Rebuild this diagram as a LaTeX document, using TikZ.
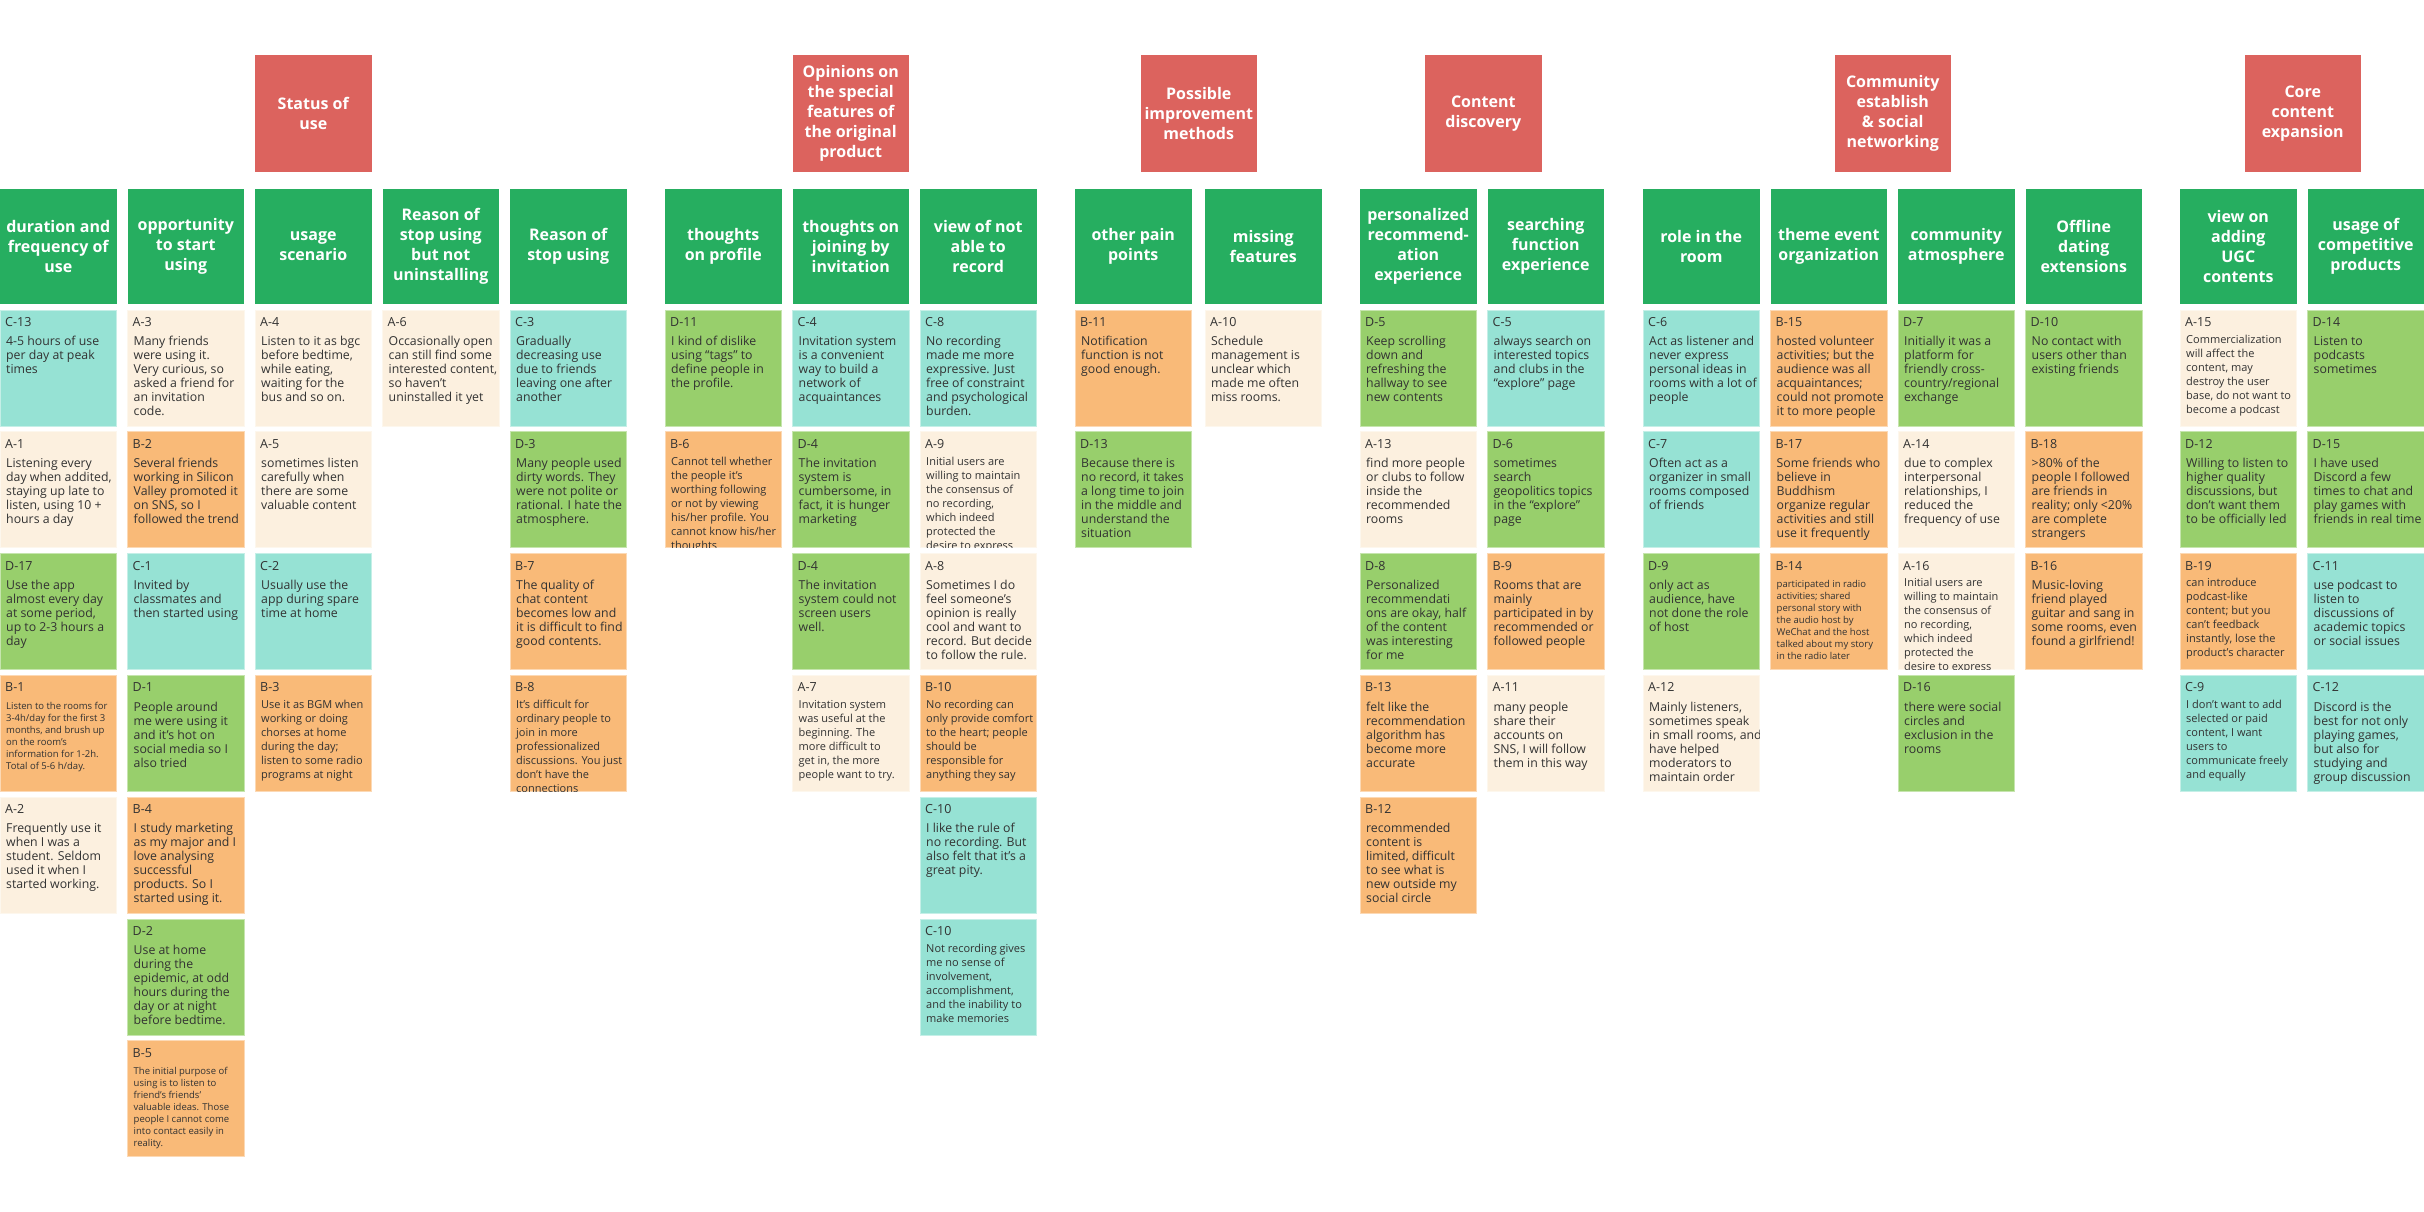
\documentclass[tikz,border=0pt]{standalone}
\usepackage{fontspec}
\setmainfont{Open Sans}
\definecolor{hdrgreen}{RGB}{38,174,96}
\definecolor{catred}{RGB}{220,99,94}
\definecolor{sTeal}{RGB}{150,226,212}
\definecolor{sCream}{RGB}{252,240,223}
\definecolor{sOrange}{RGB}{249,186,120}
\definecolor{sGreen}{RGB}{152,207,108}
\definecolor{txt}{RGB}{50,50,50}
\tikzset{
 stickbox/.style={rectangle, anchor=north west, minimum width=116.5pt, minimum height=116pt, inner sep=0pt, outer sep=0pt, line width=1pt},
 stklabel/.style={anchor=base west, inner sep=0pt, text=txt, font=\fontsize{12.5}{14}\selectfont},
 stkbody/.style={anchor=north west, align=left, inner sep=0pt, text=txt, font=\fontsize{12.3}{14}\selectfont},
 fnorm/.style={},
 fsm/.style={font=\fontsize{11}{14}\selectfont, yshift=2.5pt},
 ftiny/.style={font=\fontsize{9.5}{12}\selectfont, yshift=2pt},
 hdrbox/.style={rectangle, anchor=north west, minimum width=116.5pt, minimum height=115pt, inner sep=0pt, outer sep=0pt, fill=hdrgreen, text=white, align=center, font=\bfseries\fontsize{16}{20}\selectfont},
 catbox/.style={rectangle, anchor=north west, minimum width=116.5pt, minimum height=117pt, inner sep=0pt, outer sep=0pt, fill=catred, text=white, align=center, font=\bfseries\fontsize{16}{20}\selectfont}
}
% sticky: name, x, row, colour, label, size style, text
\newcommand\stk[7]{%
  \node[stickbox, fill=#4, draw=#4!55!white] (#1) at (#2,{310+121.8*(#3-1)}) {};
  \node[stklabel] (#1-l) at ([xshift=5pt,yshift=-16.5pt]#1.north west) {#5};
  \begin{scope}
    \clip (#1.south west) rectangle (#1.north east);
    \node[stkbody, #6] (#1-t) at ([xshift=6pt,yshift=-26pt]#1.north west) {\rule{0pt}{9.5pt}#7};
  \end{scope}}
\newcommand\hdr[3]{\node[hdrbox] (#1) at (#2,189) {#3};}
\newcommand\catg[3]{\node[catbox] (#1) at (#2,55) {#3};}
\begin{document}
\begin{tikzpicture}[x=1pt,y=-1pt]
\fill[white] (0,0) rectangle (2424,1211);
\useasboundingbox (0,0) rectangle (2424,1211);

% category boxes
\catg{k1}{255}{Status of\\use}
\catg{k2}{792.5}{Opinions on\\the special\\features of\\the original\\product}
\catg{k3}{1140.5}{Possible\\improvement\\methods}
\catg{k4}{1425}{Content\\discovery}
\catg{k5}{1834.5}{Community\\establish\\\& social\\networking}
\catg{k6}{2244.5}{Core\\content\\expansion}

% headers
\hdr{h1}{0}{duration and\\frequency of\\use}
\hdr{h2}{127.5}{opportunity\\to start\\using}
\hdr{h3}{255}{usage\\scenario}
\hdr{h4}{382.5}{Reason of\\stop using\\but not\\uninstalling}
\hdr{h5}{510}{Reason of\\stop using}
\hdr{h6}{665}{thoughts\\on profile}
\hdr{h7}{792.5}{thoughts on\\joining by\\invitation}
\hdr{h8}{920}{view of not\\able to\\record}
\hdr{h9}{1075}{other pain\\points}
\hdr{h10}{1205}{missing\\features}
\hdr{h11}{1360}{personalized\\recommend-\\ation\\experience}
\hdr{h12}{1487.5}{searching\\function\\experience}
\hdr{h13}{1643}{role in the\\room}
\hdr{h14}{1770.5}{theme event\\organization}
\hdr{h15}{1898}{community\\atmosphere}
\hdr{h16}{2025.5}{Offline\\dating\\extensions}
\hdr{h17}{2180}{view on\\adding\\UGC\\contents}
\hdr{h18}{2307.5}{usage of\\competitive\\products}

% column 1
\stk{a1}{0}{1}{sTeal}{C-13}{fnorm}{4-5 hours of use\\per day at peak\\times}
\stk{a2}{0}{2}{sCream}{A-1}{fnorm}{Listening every\\day when addited,\\staying up late to\\listen, using 10 +\\hours a day}
\stk{a3}{0}{3}{sGreen}{D-17}{fnorm}{Use the app\\almost every day\\at some period,\\up to 2-3 hours a\\day}
\stk{a4}{0}{4}{sOrange}{B-1}{ftiny}{Listen to the rooms for\\3-4h/day for the first 3\\months, and brush up\\on the room's\\information for 1-2h.\\Total of 5-6 h/day.}
\stk{a5}{0}{5}{sCream}{A-2}{fnorm}{Frequently use it\\when I was a\\student. Seldom\\used it when I\\started working.}

% column 2
\stk{b1}{127.5}{1}{sCream}{A-3}{fnorm}{Many friends\\were using it.\\Very curious, so\\asked a friend for\\an invitation\\code.}
\stk{b2}{127.5}{2}{sOrange}{B-2}{fnorm}{Several friends\\working in Silicon\\Valley promoted it\\on SNS, so I\\followed the trend}
\stk{b3}{127.5}{3}{sTeal}{C-1}{fnorm}{Invited by\\classmates and\\then started using}
\stk{b4}{127.5}{4}{sGreen}{D-1}{fnorm}{People around\\me were using it\\and it's hot on\\social media so I\\also tried}
\stk{b5}{127.5}{5}{sOrange}{B-4}{fnorm}{I study marketing\\as my major and I\\love analysing\\successful\\products. So I\\started using it.}
\stk{b6}{127.5}{6}{sGreen}{D-2}{fnorm}{Use at home\\during the\\epidemic, at odd\\hours during the\\day or at night\\before bedtime.}
\stk{b7}{127.5}{7}{sOrange}{B-5}{ftiny}{The initial purpose of\\using is to listen to\\friend's friends'\\valuable ideas. Those\\people I cannot come\\into contact easily in\\reality.}

% column 3
\stk{c1}{255}{1}{sCream}{A-4}{fnorm}{Listen to it as bgc\\before bedtime,\\while eating,\\waiting for the\\bus and so on.}
\stk{c2}{255}{2}{sCream}{A-5}{fnorm}{sometimes listen\\carefully when\\there are some\\valuable content}
\stk{c3}{255}{3}{sTeal}{C-2}{fnorm}{Usually use the\\app during spare\\time at home}
\stk{c4}{255}{4}{sOrange}{B-3}{fsm}{Use it as BGM when\\working or doing\\chorses at home\\during the day;\\listen to some radio\\programs at night}

% column 4
\stk{d1}{382.5}{1}{sCream}{A-6}{fnorm}{Occasionally open\\can still find some\\interested content,\\so haven't\\uninstalled it yet}

% column 5
\stk{e1}{510}{1}{sTeal}{C-3}{fnorm}{Gradually\\decreasing use\\due to friends\\leaving one after\\another}
\stk{e2}{510}{2}{sGreen}{D-3}{fnorm}{Many people used\\dirty words. They\\were not polite or\\rational. I hate the\\atmosphere.}
\stk{e3}{510}{3}{sOrange}{B-7}{fnorm}{The quality of\\chat content\\becomes low and\\it is difficult to find\\good contents.}
\stk{e4}{510}{4}{sOrange}{B-8}{fsm}{It's difficult for\\ordinary people to\\join in more\\professionalized\\discussions. You just\\don't have the\\connections}

% column 6
\stk{f1}{665}{1}{sGreen}{D-11}{fnorm}{I kind of dislike\\using “tags” to\\define people in\\the profile.}
\stk{f2}{665}{2}{sOrange}{B-6}{fsm}{Cannot tell whether\\the people it's\\worthing following\\or not by viewing\\his/her profile. You\\cannot know his/her\\thoughts}

% column 7
\stk{g1}{792.5}{1}{sTeal}{C-4}{fnorm}{Invitation system\\is a convenient\\way to build a\\network of\\acquaintances}
\stk{g2}{792.5}{2}{sGreen}{D-4}{fnorm}{The invitation\\system is\\cumbersome, in\\fact, it is hunger\\marketing}
\stk{g3}{792.5}{3}{sGreen}{D-4}{fnorm}{The invitation\\system could not\\screen users\\well.}
\stk{g4}{792.5}{4}{sCream}{A-7}{fsm}{Invitation system\\was useful at the\\beginning. The\\more difficult to\\get in, the more\\people want to try.}

% column 8
\stk{i1}{920}{1}{sTeal}{C-8}{fnorm}{No recording\\made me more\\expressive. Just\\free of constraint\\and psychological\\burden.}
\stk{i2}{920}{2}{sCream}{A-9}{fsm}{Initial users are\\willing to maintain\\the consensus of\\no recording,\\which indeed\\protected the\\desire to express}
\stk{i3}{920}{3}{sCream}{A-8}{fnorm}{Sometimes I do\\feel someone's\\opinion is really\\cool and want to\\record. But decide\\to follow the rule.}
\stk{i4}{920}{4}{sOrange}{B-10}{fsm}{No recording can\\only provide comfort\\to the heart; people\\should be\\responsible for\\anything they say}
\stk{i5}{920}{5}{sTeal}{C-10}{fnorm}{I like the rule of\\no recording. But\\also felt that it's a\\great pity.}
\stk{i6}{920}{6}{sTeal}{C-10}{fsm}{Not recording gives\\me no sense of\\involvement,\\accomplishment,\\and the inability to\\make memories}

% column 9
\stk{j1}{1075}{1}{sOrange}{B-11}{fnorm}{Notification\\function is not\\good enough.}
\stk{j2}{1075}{2}{sGreen}{D-13}{fnorm}{Because there is\\no record, it takes\\a long time to join\\in the middle and\\understand the\\situation}

% column 10
\stk{m1}{1205}{1}{sCream}{A-10}{fnorm}{Schedule\\management is\\unclear which\\made me often\\miss rooms.}

% column 11
\stk{n1}{1360}{1}{sGreen}{D-5}{fnorm}{Keep scrolling\\down and\\refreshing the\\hallway to see\\new contents}
\stk{n2}{1360}{2}{sCream}{A-13}{fnorm}{find more people\\or clubs to follow\\inside the\\recommended\\rooms}
\stk{n3}{1360}{3}{sGreen}{D-8}{fnorm}{Personalized\\recommendati\\ons are okay, half\\of the content\\was interesting\\for me}
\stk{n4}{1360}{4}{sOrange}{B-13}{fnorm}{felt like the\\recommendation\\algorithm has\\become more\\accurate}
\stk{n5}{1360}{5}{sOrange}{B-12}{fnorm}{recommended\\content is\\limited, difficult\\to see what is\\new outside my\\social circle}

% column 12
\stk{o1}{1487.5}{1}{sTeal}{C-5}{fnorm}{always search on\\interested topics\\and clubs in the\\“explore” page}
\stk{o2}{1487.5}{2}{sGreen}{D-6}{fnorm}{sometimes\\search\\geopolitics topics\\in the “explore”\\page}
\stk{o3}{1487.5}{3}{sOrange}{B-9}{fnorm}{Rooms that are\\mainly\\participated in by\\recommended or\\followed people}
\stk{o4}{1487.5}{4}{sCream}{A-11}{fnorm}{many people\\share their\\accounts on\\SNS, I will follow\\them in this way}

% column 13
\stk{p1}{1643}{1}{sTeal}{C-6}{fnorm}{Act as listener and\\never express\\personal ideas in\\rooms with a lot of\\people}
\stk{p2}{1643}{2}{sTeal}{C-7}{fnorm}{Often act as a\\organizer in small\\rooms composed\\of friends}
\stk{p3}{1643}{3}{sGreen}{D-9}{fnorm}{only act as\\audience, have\\not done the role\\of host}
\stk{p4}{1643}{4}{sCream}{A-12}{fnorm}{Mainly listeners,\\sometimes speak\\in small rooms, and\\have helped\\moderators to\\maintain order}

% column 14
\stk{q1}{1770.5}{1}{sOrange}{B-15}{fnorm}{hosted volunteer\\activities; but the\\audience was all\\acquaintances;\\could not promote\\it to more people}
\stk{q2}{1770.5}{2}{sOrange}{B-17}{fnorm}{Some friends who\\believe in\\Buddhism\\organize regular\\activities and still\\use it frequently}
\stk{q3}{1770.5}{3}{sOrange}{B-14}{ftiny}{participated in radio\\activities; shared\\personal story with\\the audio host by\\WeChat and the host\\talked about my story\\in the radio later}

% column 15
\stk{r1}{1898}{1}{sGreen}{D-7}{fnorm}{Initially it was a\\platform for\\friendly cross-\\country/regional\\exchange}
\stk{r2}{1898}{2}{sCream}{A-14}{fnorm}{due to complex\\interpersonal\\relationships, I\\reduced the\\frequency of use}
\stk{r3}{1898}{3}{sCream}{A-16}{fsm}{Initial users are\\willing to maintain\\the consensus of\\no recording,\\which indeed\\protected the\\desire to express}
\stk{r4}{1898}{4}{sGreen}{D-16}{fnorm}{there were social\\circles and\\exclusion in the\\rooms}

% column 16
\stk{s1}{2025.5}{1}{sGreen}{D-10}{fnorm}{No contact with\\users other than\\existing friends}
\stk{s2}{2025.5}{2}{sOrange}{B-18}{fnorm}{>80\% of the\\people I followed\\are friends in\\reality; only <20\%\\are complete\\strangers}
\stk{s3}{2025.5}{3}{sOrange}{B-16}{fnorm}{Music-loving\\friend played\\guitar and sang in\\some rooms, even\\found a girlfriend!}

% column 17
\stk{t1}{2180}{1}{sCream}{A-15}{fsm}{Commercialization\\will affect the\\content, may\\destroy the user\\base, do not want to\\become a podcast}
\stk{t2}{2180}{2}{sGreen}{D-12}{fnorm}{Willing to listen to\\higher quality\\discussions, but\\don't want them\\to be officially led}
\stk{t3}{2180}{3}{sOrange}{B-19}{fsm}{can introduce\\podcast-like\\content; but you\\can't feedback\\instantly, lose the\\product's character}
\stk{t4}{2180}{4}{sTeal}{C-9}{fsm}{I don't want to add\\selected or paid\\content, I want\\users to\\communicate freely\\and equally}

% column 18
\stk{u1}{2307.5}{1}{sGreen}{D-14}{fnorm}{Listen to\\podcasts\\sometimes}
\stk{u2}{2307.5}{2}{sGreen}{D-15}{fnorm}{I have used\\Discord a few\\times to chat and\\play games with\\friends in real time}
\stk{u3}{2307.5}{3}{sTeal}{C-11}{fnorm}{use podcast to\\listen to\\discussions of\\academic topics\\or social issues}
\stk{u4}{2307.5}{4}{sTeal}{C-12}{fnorm}{Discord is the\\best for not only\\playing games,\\but also for\\studying and\\group discussion}
\end{tikzpicture}
\end{document}
